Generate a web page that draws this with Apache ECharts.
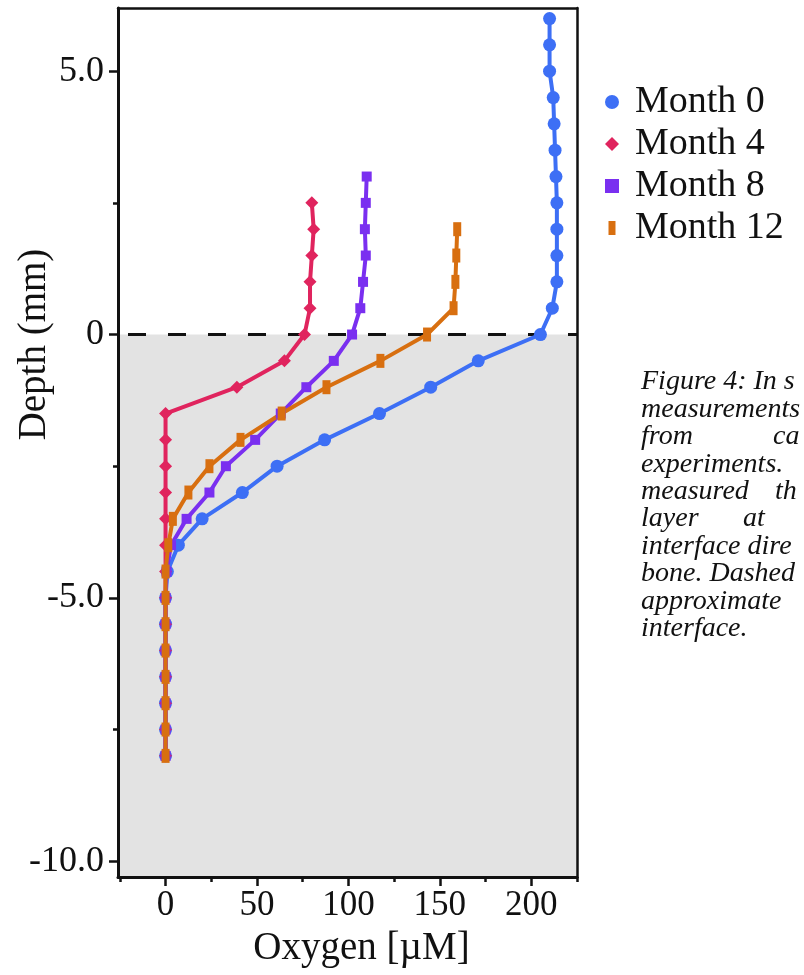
<!DOCTYPE html>
<html><head><meta charset="utf-8">
<script src="https://cdn.jsdelivr.net/npm/echarts@6/dist/echarts.min.js"></script>
<style>html,body{margin:0;padding:0;background:#fff}#c{width:804px;height:975px}</style>
</head><body><div id="c"></div>
<script>
const seriesNames = ['Month 0', 'Month 4', 'Month 8', 'Month 12'];
const seriesColors = ['#3d6ff5', '#e0245e', '#7a2ff0', '#d86f10'];

const depth0 = [6.0, 5.5, 5.0, 4.5, 4.0, 3.5, 3.0, 2.5, 2.0, 1.5, 1.0, 0.5, 0.0, -0.5, -1.0, -1.5, -2.0, -2.5, -3.0, -3.5, -4.0, -4.5, -5.0, -5.5, -6.0, -6.5, -7.0, -7.5, -8.0];
const oxygen0 = [210, 210, 210, 212, 212.5, 213, 213.5, 214, 214, 214, 214, 211.5, 205, 171, 145, 117, 87, 61, 42, 20, 7, 1, 0, 0, 0, 0, 0, 0, 0];

const depth4 = [2.5, 2.0, 1.5, 1.0, 0.5, 0.0, -0.5, -1.0, -1.5, -2.0, -2.5, -3.0, -3.5, -4.0, -4.5, -5.0, -5.5, -6.0, -6.5, -7.0, -7.5, -8.0];
const oxygen4 = [80, 81, 80, 79, 79, 76, 65, 39, 0, 0, 0, 0, 0, 0, 0, 0, 0, 0, 0, 0, 0, 0];

const depth8 = [3.0, 2.5, 2.0, 1.5, 1.0, 0.5, 0.0, -0.5, -1.0, -1.5, -2.0, -2.5, -3.0, -3.5, -4.0, -4.5, -5.0, -5.5, -6.0, -6.5, -7.0, -7.5, -8.0];
const oxygen8 = [110, 109.5, 109, 109.5, 108, 106.5, 102, 92, 77, 63, 49, 33, 24, 11.5, 3, 0.5, 0, 0, 0, 0, 0, 0, 0];

const depth12 = [2.0, 1.5, 1.0, 0.5, 0.0, -0.5, -1.0, -1.5, -2.0, -2.5, -3.0, -3.5, -4.0, -4.5, -5.0, -5.5, -6.0, -6.5, -7.0, -7.5, -8.0];
const oxygen12 = [159.5, 159, 158.5, 157.5, 143, 117.5, 88, 63.5, 41, 24, 12.5, 4, 1.5, 0, 0, 0, 0, 0, 0, 0, 0];

const xTicks = [0, 50, 100, 150, 200];
const xMinorTicks = [-25, 25, 75, 125, 175, 225];
const yTicks = [-10, -5, 0, 5];
const yTickLabels = ['-10.0', '-5.0', '0', '5.0'];
const yMinorTicks = [-7.5, -2.5, 2.5];
const interfaceDepth = 0;

const captionLines = [
  ['Figure 4: In s'],
  ['measurements'],
  ['from', 'ca'],
  ['experiments.'],
  ['measured', 'th'],
  ['layer', 'at'],
  ['interface dire'],
  ['bone. Dashed'],
  ['approximate'],
  ['interface.']
];

const FONT = "'Liberation Serif','Times New Roman',serif";
const INK = '#111';

function pairs(xs, ys) { return xs.map((x, i) => [x, ys[i]]); }
const allDepths = [depth0, depth4, depth8, depth12];
const allOxygen = [oxygen0, oxygen4, oxygen8, oxygen12];
const symbols = ['circle', 'diamond', 'rect', 'rect'];
const symbolSizes = [13, 13, 10, [8, 14]];

const series = seriesNames.map((name, i) => ({
  name: name,
  type: 'line',
  xAxisIndex: 0,
  yAxisIndex: 0,
  data: pairs(allOxygen[i], allDepths[i]),
  symbol: symbols[i],
  symbolSize: symbolSizes[i],
  showAllSymbol: true,
  color: seriesColors[i],
  lineStyle: { width: 4, color: seriesColors[i] },
  itemStyle: { color: seriesColors[i] },
  z: 2,
  animation: false
}));

series[0].markArea = {
  silent: true,
  z: 1,
  itemStyle: { color: '#e3e3e3' },
  data: [[{ yAxis: interfaceDepth }, { yAxis: -10.3 }]]
};
series[0].markLine = {
  silent: true,
  z: 1,
  symbol: 'none',
  label: { show: false },
  lineStyle: { color: INK, width: 3, type: [18, 22], dashOffset: 30 },
  data: [{ yAxis: interfaceDepth }]
};

const graphics = [];
const capX = 641, capY0 = 382, capDy = 27.4;
const secondCol = { 2: 773, 4: 775, 5: 743 };
captionLines.forEach((parts, i) => {
  graphics.push({
    type: 'text', x: capX, y: capY0 + i * capDy,
    style: { text: parts[0], font: 'italic 28px ' + FONT, fill: INK, verticalAlign: 'middle' },
    silent: true
  });
  if (parts[1]) {
    graphics.push({
      type: 'text', x: secondCol[i], y: capY0 + i * capDy,
      style: { text: parts[1], font: 'italic 28px ' + FONT, fill: INK, verticalAlign: 'middle' },
      silent: true
    });
  }
});

const chart = echarts.init(document.getElementById('c'), null, { renderer: 'canvas' });
chart.setOption({
  animation: false,
  backgroundColor: '#fff',
  grid: { left: 118, top: 8, right: 227, bottom: 98, containLabel: false, outerBoundsMode: 'none', show: true, backgroundColor: '#fff', borderWidth: 0 },
  legend: {
    orient: 'vertical', left: 600, top: 78, itemGap: 4, itemWidth: 14, itemHeight: 14,
    textStyle: { fontSize: 38, fontFamily: FONT, color: INK, lineHeight: 38, padding: [0, 0, 0, 11] },
    data: [
      { name: 'Month 0', icon: 'circle' },
      { name: 'Month 4', icon: 'path://M6,0L12,6L6,12L0,6Z' },
      { name: 'Month 8', icon: 'path://M0,0L11,0L11,11L0,11Z' },
      { name: 'Month 12', icon: 'path://M0,0L7,0L7,14L0,14Z' }
    ]
  },
  xAxis: [
    {
      type: 'value', min: -26, max: 225, position: 'bottom', z: 3,
      axisLine: { show: true, onZero: false, lineStyle: { color: INK, width: 3 } },
      axisTick: { show: true, customValues: xTicks, length: 9, lineStyle: { color: INK, width: 2.5 } },
      axisLabel: { customValues: xTicks, margin: 11, fontSize: 35, fontFamily: FONT, color: INK },
      splitLine: { show: false },
      name: 'Oxygen [µM]', nameLocation: 'middle', nameGap: 52, nameMoveOverlap: false,
      nameTextStyle: { fontSize: 39, fontFamily: FONT, color: INK, padding: [0, 0, 0, 28] }
    },
    {
      type: 'value', min: -26, max: 225, position: 'bottom', z: 3,
      axisLine: { show: false, onZero: false },
      axisTick: { show: true, customValues: xMinorTicks, length: 5, lineStyle: { color: INK, width: 2.5 } },
      axisLabel: { show: false }, splitLine: { show: false }
    },
    {
      type: 'value', min: -26, max: 225, position: 'top', z: 3,
      axisLine: { show: true, onZero: false, lineStyle: { color: INK, width: 2.5 } },
      axisTick: { show: false }, axisLabel: { show: false }, splitLine: { show: false }
    }
  ],
  yAxis: [
    {
      type: 'value', min: -10.3, max: 6.2, position: 'left', z: 3,
      axisLine: { show: true, onZero: false, lineStyle: { color: INK, width: 3 } },
      axisTick: { show: true, customValues: yTicks, length: 9, lineStyle: { color: INK, width: 2.5 } },
      axisLabel: {
        customValues: yTicks, margin: 14, fontSize: 36, fontFamily: FONT, color: INK,
        formatter: v => { const k = yTicks.indexOf(v); return k >= 0 ? yTickLabels[k] : ''; }
      },
      splitLine: { show: false },
      name: 'Depth (mm)', nameLocation: 'middle', nameGap: 64, nameMoveOverlap: false,
      nameTextStyle: { fontSize: 39, fontFamily: FONT, color: INK, padding: [0, 0, 0, 196] }
    },
    {
      type: 'value', min: -10.3, max: 6.2, position: 'left', z: 3,
      axisLine: { show: false, onZero: false },
      axisTick: { show: true, customValues: yMinorTicks, length: 5, lineStyle: { color: INK, width: 2.5 } },
      axisLabel: { show: false }, splitLine: { show: false }
    },
    {
      type: 'value', min: -10.3, max: 6.2, position: 'right', z: 3,
      axisLine: { show: true, onZero: false, lineStyle: { color: INK, width: 2.5 } },
      axisTick: { show: false }, axisLabel: { show: false }, splitLine: { show: false }
    }
  ],
  series: series,
  graphic: graphics
});
</script></body></html>
